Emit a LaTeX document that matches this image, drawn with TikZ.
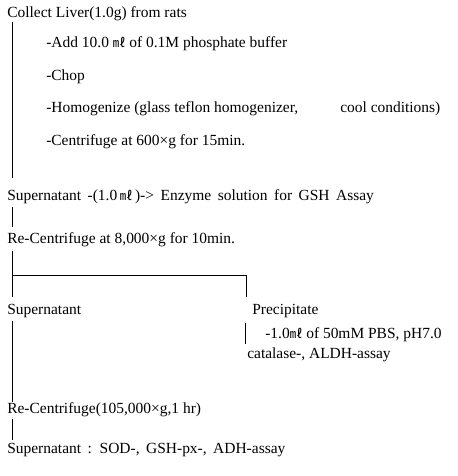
\documentclass[tikz,border=0pt]{standalone}
\usepackage{fontspec}
\setmainfont{Liberation Serif}
\newfontfamily\cjk{Noto Sans CJK KR}
\newcommand{\mlunit}{{\cjk\fontsize{9.5}{10}\selectfont ㎖}}
\newcommand{\widespace}{\spaceskip=0.42em plus 0.1em\relax}
\tikzset{
    step text/.style={anchor=west, inner sep=0pt, font=\fontsize{11.6}{14}\selectfont},
    wide text/.style={step text, font=\fontsize{11.6}{14}\selectfont\widespace},
    flow line/.style={line width=0.7pt}
}
\begin{document}
\begin{tikzpicture}[x=0.75pt, y=-0.75pt]
    \useasboundingbox (0,0) rectangle (458,476);

    \node[step text] (collect) at (7,14) {Collect Liver(1.0g) from rats};
    \node[step text] (add) at (46,44) {-Add 10.0 \mlunit\ of 0.1M phosphate buffer};
    \node[step text] (chop) at (46,77) {-Chop};
    \node[step text] (homog) at (46,109) {-Homogenize (glass teflon homogenizer,};
    \node[step text] (cool) at (340,109) {cool conditions)};
    \node[step text] (cent) at (46,142) {-Centrifuge at 600×g for 15min.};
    \node[wide text] (sup1) at (7,197) {Supernatant -(1.0\,\mlunit\,)-> Enzyme solution for GSH Assay};
    \node[step text] (recent1) at (7,240) {Re-Centrifuge at 8,000×g for 10min.};
    \node[step text] (sup2) at (7,311) {Supernatant};
    \node[step text] (prec) at (252,311) {Precipitate};
    \node[step text] (pbs) at (265,335) {-1.0\mlunit\ of 50mM PBS, pH7.0};
    \node[step text] (cat) at (247,355) {catalase-, ALDH-assay};
    \node[step text] (recent2) at (7,410) {Re-Centrifuge(105,000×g,1 hr)};
    \node[wide text] (sup3) at (7,450) {Supernatant : SOD-, GSH-px-, ADH-assay};

    % main line
    \coordinate (split) at (12,275);
    \coordinate (right) at (246,275);
    \draw[flow line] (12,22) -- (12,178);
    \draw[flow line] (12,207) -- (12,227);
    \draw[flow line] (12,251) -- (12,297);
    \draw[flow line] (split) -- (right) -- (246,297);
    \draw[flow line] (12,321) -- (12,402);
    \draw[flow line] (245,323) -- (245,344);
    \draw[flow line] (12,419) -- (12,440);
\end{tikzpicture}
\end{document}
